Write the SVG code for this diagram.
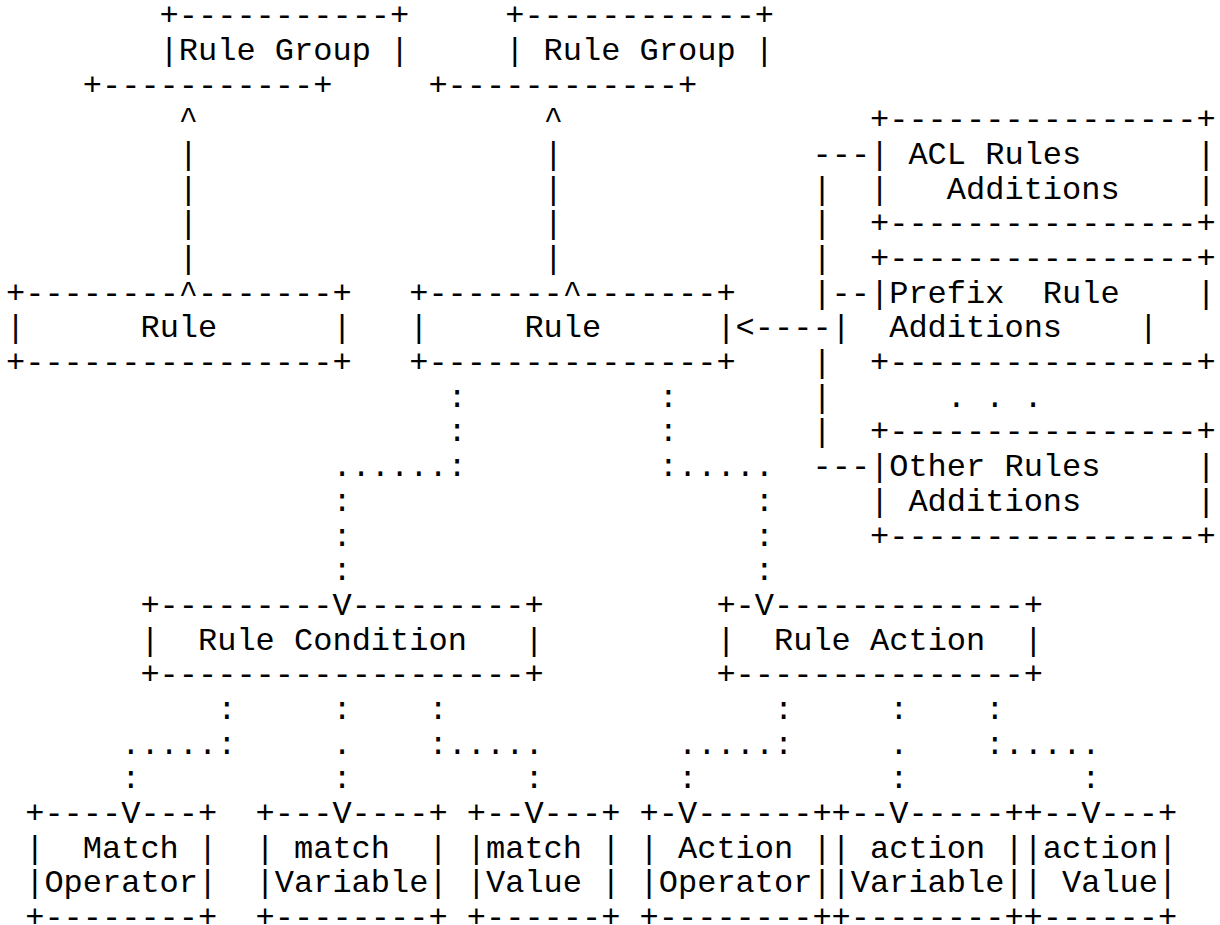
<svg xmlns="http://www.w3.org/2000/svg" width="1220" height="925" viewBox="0 0 1220 925" xml:space="preserve">
<style>
text { font-family: "Liberation Mono", "Courier New", monospace; font-size: 32px; fill: #000; white-space: pre; }
</style>
<rect width="1220" height="925" fill="#fff"/>
<g id="rule-group-1">
<text x="159.6" y="25.4">+-----------+</text>
<text x="159.6" y="60.1">|Rule Group |</text>
<text x="82.8" y="94.7">+-----------+</text>
</g>
<g id="rule-group-2">
<text x="505.2" y="25.4">+------------+</text>
<text x="505.2" y="60.1">| Rule Group |</text>
<text x="428.4" y="94.7">+------------+</text>
</g>
<g id="rule-1">
<text x="6" y="302.8">+--------^-------+</text>
<text x="6" y="337.4">|      Rule      |</text>
<text x="6" y="372.1">+----------------+</text>
</g>
<g id="rule-2">
<text x="409.2" y="302.8">+-------^-------+</text>
<text x="409.2" y="337.4">|     Rule      |</text>
<text x="409.2" y="372.1">+---------------+</text>
</g>
<g id="acl-rules-additions">
<text x="870" y="129.4">+----------------+</text>
<text x="870" y="164.1">| ACL Rules      |</text>
<text x="870" y="198.8">|   Additions    |</text>
<text x="870" y="233.4">+----------------+</text>
</g>
<g id="prefix-rule-additions">
<text x="870" y="268.1">+----------------+</text>
<text x="870" y="302.8">|Prefix  Rule    |</text>
<text x="831.6" y="337.4">|  Additions    |</text>
<text x="870" y="372.1">+----------------+</text>
</g>
<g id="more-additions">
<text x="946.8" y="406.8">. . .</text>
</g>
<g id="other-rules-additions">
<text x="870" y="441.4">+----------------+</text>
<text x="870" y="476.1">|Other Rules     |</text>
<text x="870" y="510.8">| Additions      |</text>
<text x="870" y="545.5">+----------------+</text>
</g>
<g id="rule-condition">
<text x="140.4" y="614.8">+---------V---------+</text>
<text x="140.4" y="649.5">|  Rule Condition   |</text>
<text x="140.4" y="684.1">+-------------------+</text>
</g>
<g id="rule-action">
<text x="716.4" y="614.8">+-V-------------+</text>
<text x="716.4" y="649.5">|  Rule Action  |</text>
<text x="716.4" y="684.1">+---------------+</text>
</g>
<g id="match-operator">
<text x="25.2" y="822.8">+----V---+</text>
<text x="25.2" y="857.5">|  Match |</text>
<text x="25.2" y="892.1">|Operator|</text>
<text x="25.2" y="926.8">+--------+</text>
</g>
<g id="match-variable">
<text x="255.6" y="822.8">+---V----+</text>
<text x="255.6" y="857.5">| match  |</text>
<text x="255.6" y="892.1">|Variable|</text>
<text x="255.6" y="926.8">+--------+</text>
</g>
<g id="match-value">
<text x="466.8" y="822.8">+--V---+</text>
<text x="466.8" y="857.5">|match |</text>
<text x="466.8" y="892.1">|Value |</text>
<text x="466.8" y="926.8">+------+</text>
</g>
<g id="action-operator">
<text x="639.6" y="822.8">+-V------+</text>
<text x="639.6" y="857.5">| Action |</text>
<text x="639.6" y="892.1">|Operator|</text>
<text x="639.6" y="926.8">+--------+</text>
</g>
<g id="action-variable">
<text x="831.6" y="822.8">+--V-----+</text>
<text x="831.6" y="857.5">| action |</text>
<text x="831.6" y="892.1">|Variable|</text>
<text x="831.6" y="926.8">+--------+</text>
</g>
<g id="action-value">
<text x="1023.6" y="822.8">+--V---+</text>
<text x="1023.6" y="857.5">|action|</text>
<text x="1023.6" y="892.1">| Value|</text>
<text x="1023.6" y="926.8">+------+</text>
</g>
<g id="connectors">
<text x="178.8" y="129.4">^                  ^</text>
<text x="178.8" y="164.1">|                  |             ---</text>
<text x="178.8" y="198.8">|                  |             |</text>
<text x="178.8" y="233.4">|                  |             |</text>
<text x="178.8" y="268.1">|                  |             |</text>
<text x="812.4" y="302.8">|--</text>
<text x="735.6" y="337.4">&lt;----</text>
<text x="812.4" y="372.1">|</text>
<text x="447.6" y="406.8">:          :       |</text>
<text x="447.6" y="441.4">:          :       |</text>
<text x="332.4" y="476.1">......:          :.....  ---</text>
<text x="332.4" y="510.8">:                     :</text>
<text x="332.4" y="545.5">:                     :</text>
<text x="332.4" y="580.1">:                     :</text>
<text x="217.2" y="718.8">:     :    :                 :     :    :</text>
<text x="121.2" y="753.5">.....:     .    :.....       .....:     .    :.....</text>
<text x="121.2" y="788.1">:          :         :       :          :         :</text>
</g>
</svg>
